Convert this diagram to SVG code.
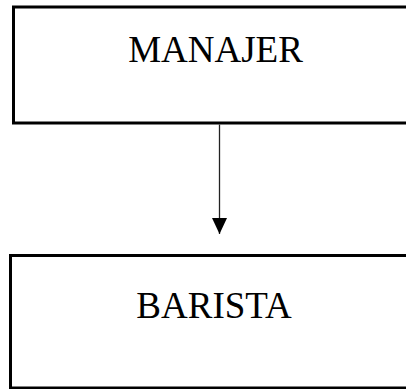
<svg xmlns="http://www.w3.org/2000/svg" width="406" height="389" viewBox="0 0 406 389">
<style>
.box{fill:#fff;stroke:#000;stroke-width:3}
.lbl{font-family:"Liberation Serif","Times New Roman",serif;font-size:37px;fill:#000;text-anchor:middle}
.conn{stroke:#222;stroke-width:1.3;fill:none}
</style>
<defs>
<marker id="arr" markerUnits="userSpaceOnUse" markerWidth="16" markerHeight="15" refX="16" refY="7.5" orient="auto" viewBox="0 0 16 15">
<path d="M0,0 L16,7.5 L0,15 Z" fill="#000"/>
</marker>
</defs>
<rect width="406" height="389" fill="#fff"/>
<g id="manajer">
<rect class="box" x="13.5" y="7" width="410" height="116"/>
<text class="lbl" x="215.5" y="62">MANAJER</text>
</g>
<g id="barista">
<rect class="box" x="10.5" y="255.5" width="410" height="132.5"/>
<text class="lbl" x="214" y="318">BARISTA</text>
</g>
<g id="connectors">
<line class="conn" x1="219.5" y1="124.5" x2="219.5" y2="234" marker-end="url(#arr)"/>
</g>
</svg>
